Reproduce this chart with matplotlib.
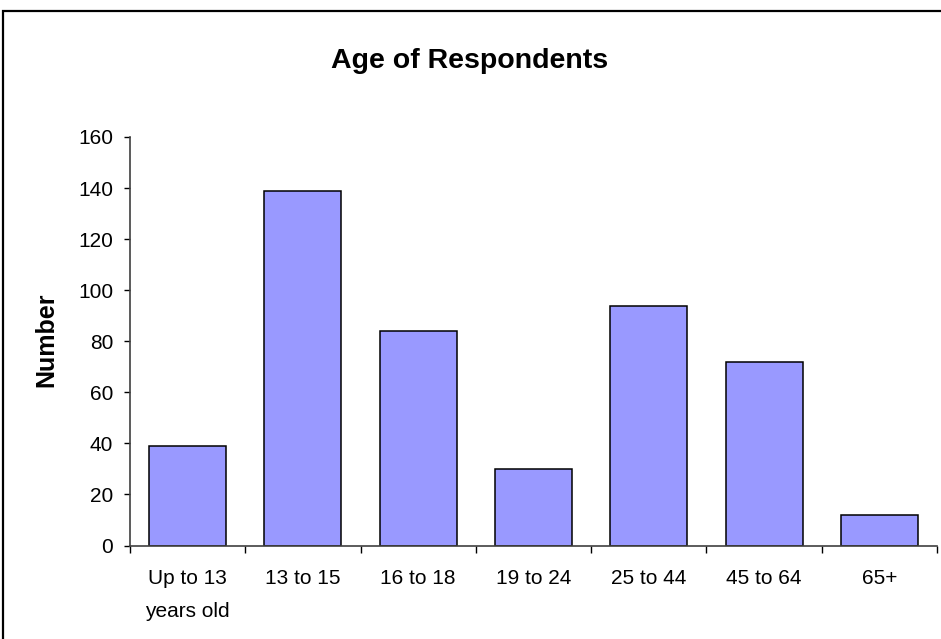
import matplotlib
matplotlib.use("Agg")
import matplotlib.pyplot as plt
from matplotlib.patches import Rectangle
import numpy as np

plt.rcParams['font.family'] = ['Liberation Sans', 'DejaVu Sans']

categories = ["Up to 13\nyears old", "13 to 15", "16 to 18", "19 to 24",
              "25 to 44", "45 to 64", "65+"]
counts = [39, 139, 84, 30, 94, 72, 12]
y_ticks = [0, 20, 40, 60, 80, 100, 120, 140, 160]

fig = plt.figure(figsize=(9.41, 6.39), dpi=100)

# outer chart-area frame (cut off at right and bottom like the source)
fig.patches.append(Rectangle((3 / 941, -0.05), 1.2, 1 - 11 / 639 + 0.05,
                             transform=fig.transFigure, fill=False,
                             edgecolor='black', linewidth=1.6))

ax = fig.add_axes([130 / 941, 1 - 545.5 / 639, 807 / 941, 408.5 / 639])

x = np.arange(len(categories))
ax.bar(x, counts, width=0.667, color='#9999FF', edgecolor='black', linewidth=1.1)

ax.set_xlim(-0.5, len(categories) - 0.5)
ax.set_ylim(0, 160)
ax.set_yticks(y_ticks)
ax.tick_params(axis='y', direction='out', length=4, width=1, pad=8, labelsize=15)

ax.set_xticks(x)
ax.set_xticklabels(categories, fontsize=15, linespacing=1.95, va='top')
ax.set_xticks(np.arange(len(categories) + 1) - 0.5, minor=True)
ax.tick_params(axis='x', which='major', length=0, pad=17)
ax.tick_params(axis='x', which='minor', direction='out', length=5, width=1)

for side in ['top', 'right']:
    ax.spines[side].set_visible(False)
for side in ['left', 'bottom']:
    ax.spines[side].set_color('#404040')
    ax.spines[side].set_linewidth(1.2)

fig.text(470 / 941, 1 - 61 / 639, "Age of Respondents", ha='center', va='center',
         fontsize=20.5, fontweight='bold')
fig.text(46 / 941, 1 - 340 / 639, "Number", ha='center', va='center',
         rotation=90, fontsize=18, fontweight='bold')

fig.savefig("out.png", dpi=100)
